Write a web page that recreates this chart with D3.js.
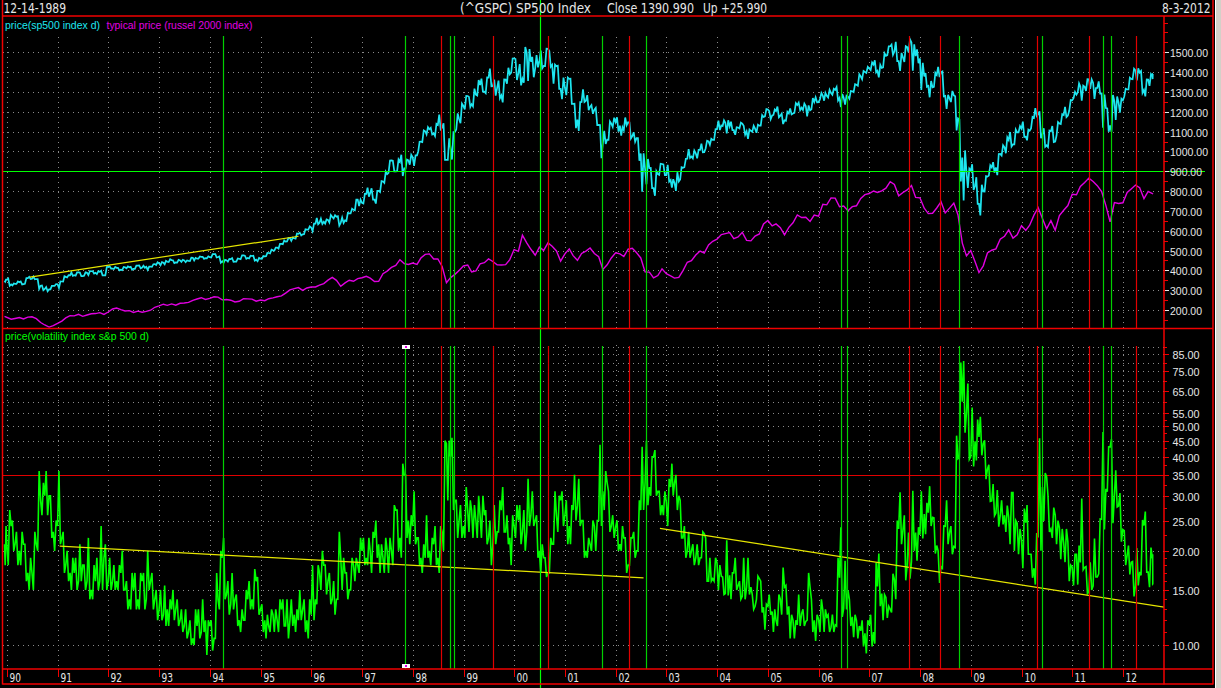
<!DOCTYPE html>
<html><head><meta charset="utf-8">
<script src="https://cdn.jsdelivr.net/npm/d3@7/dist/d3.min.js"></script>
<style>html,body{margin:0;padding:0;background:#000;overflow:hidden}</style>
</head><body>
<svg id="c" width="1221" height="688"></svg>
<script>
// ---------------- DATA (monthly, Dec 1989 .. Aug 2012) ----------------
const seriesStart = "1989-12-14";
const seriesEnd = "2012-08-03";

// S&P 500 monthly close / high / low (closing basis)
const spxClose = [353.4,
 329.1,331.9,339.9,330.8,361.2,358.0,356.2,322.6,306.1,304.0,322.2,330.2,
 343.9,367.1,375.2,375.3,389.8,371.2,387.8,395.4,387.9,392.5,375.2,417.1,
 408.8,412.7,403.7,414.9,415.4,408.1,424.2,414.0,417.8,418.7,431.4,435.7,
 438.8,443.4,451.7,440.2,450.2,450.5,448.1,463.6,458.9,467.8,461.8,466.5,
 481.6,467.1,445.8,450.9,456.5,444.3,458.3,475.5,462.7,472.4,453.7,459.3,
 470.4,487.4,500.7,514.7,533.4,544.8,562.1,561.9,584.4,581.5,605.4,615.9,
 636.0,640.4,645.5,654.2,669.1,670.6,639.9,652.0,687.3,705.3,757.0,740.7,
 786.2,790.8,757.1,801.3,848.3,885.1,954.3,899.5,947.3,914.6,955.4,970.4,
 980.3,1049.3,1101.8,1111.8,1090.8,1133.8,1120.7,957.3,1017.0,1098.7,1163.6,1229.2,
 1279.6,1238.3,1286.4,1335.2,1301.8,1372.7,1328.7,1320.4,1282.7,1362.9,1388.9,1469.3,
 1394.5,1366.4,1498.6,1452.4,1420.6,1454.6,1430.8,1517.7,1436.5,1429.4,1315.0,1320.3,
 1366.0,1239.9,1160.3,1249.5,1255.8,1224.4,1211.2,1133.6,1040.9,1059.8,1139.5,1148.1,
 1130.2,1106.7,1147.4,1076.9,1067.1,989.8,911.6,916.1,815.3,885.8,936.3,879.8,
 855.7,841.2,848.2,916.9,963.6,974.5,990.3,1008.0,996.0,1050.7,1058.2,1111.9,
 1131.1,1144.9,1126.2,1107.3,1120.7,1140.8,1101.7,1104.2,1114.6,1130.2,1173.8,1211.9,
 1181.3,1203.6,1180.6,1156.9,1191.5,1191.3,1234.2,1220.3,1228.8,1207.0,1249.5,1248.3,
 1280.1,1280.7,1294.8,1310.6,1270.1,1270.2,1276.7,1303.8,1335.9,1377.9,1400.6,1418.3,
 1438.2,1406.8,1420.9,1482.4,1530.6,1503.4,1455.3,1474.0,1526.8,1549.4,1481.1,1468.4,
 1378.6,1330.6,1322.7,1385.6,1400.4,1280.0,1267.4,1282.8,1166.4,968.8,896.2,903.3,
 825.9,735.1,797.9,872.8,919.1,919.3,987.5,1020.6,1057.1,1036.2,1095.6,1115.1,
 1073.9,1104.5,1169.4,1186.7,1089.4,1030.7,1101.6,1049.3,1141.2,1183.3,1180.6,1257.6,
 1286.1,1327.2,1325.8,1363.6,1345.2,1320.6,1292.3,1218.9,1131.4,1253.3,1247.0,1257.6,
 1312.4,1365.7,1408.5,1397.9,1310.3,1362.2,1379.3,1391.0];
const spxHigh = [353,
 359,334,344,344,361,367,369,356,324,316,322,331,
 344,370,376,390,390,389,390,396,396,396,398,417,
 420,417,413,417,420,418,424,425,423,419,431,441,
 442,448,456,451,453,453,450,464,463,470,468,471,
 482,482,470,453,458,462,460,476,474,474,474,463,
 472,488,504,515,534,551,563,565,586,590,607,622,
 636,664,661,657,679,678,673,666,690,711,757,757,
 786,817,814,801,850,898,954,953,960,983,959,983,
 980,1049,1106,1122,1119,1139,1186,1142,1066,1098,1192,1241,
 1280,1275,1317,1360,1367,1373,1418,1362,1357,1363,1422,1469,
 1466,1441,1527,1516,1477,1486,1509,1518,1507,1438,1432,1372,
 1373,1367,1241,1249,1313,1284,1234,1220,1133,1104,1151,1170,
 1172,1122,1171,1146,1097,1067,990,962,917,900,938,934,
 932,860,895,920,963,1011,1004,1008,1039,1054,1064,1112,
 1155,1157,1157,1150,1122,1145,1129,1111,1129,1135,1183,1214,
 1203,1211,1226,1191,1200,1217,1244,1246,1241,1232,1269,1273,
 1295,1295,1311,1316,1325,1290,1281,1305,1339,1389,1406,1427,
 1449,1460,1437,1495,1530,1539,1553,1497,1531,1565,1540,1515,
 1447,1395,1355,1397,1426,1404,1285,1305,1278,1161,1005,913,
 935,870,832,875,930,946,987,1031,1071,1098,1110,1128,
 1150,1110,1174,1218,1202,1117,1105,1128,1148,1188,1225,1259,
 1300,1343,1332,1364,1363,1320,1353,1287,1217,1285,1277,1266,
 1316,1372,1417,1419,1406,1363,1390,1391];
const spxLow = [343,
 322,324,332,329,332,356,355,307,300,295,304,322,
 311,343,364,372,373,371,373,376,384,381,375,375,
 409,407,400,401,410,403,408,410,413,402,418,427,
 426,431,442,437,439,443,441,447,450,459,458,461,
 465,465,438,438,444,443,444,456,458,460,449,446,
 458,471,485,500,510,532,546,549,560,576,582,605,
 598,633,634,636,641,662,626,639,649,687,703,724,
 737,772,757,737,795,841,892,899,900,876,914,933,
 927,1001,1047,1086,1085,1077,1112,957,957,959,1111,1142,
 1212,1224,1227,1282,1302,1294,1328,1281,1268,1247,1342,1397,
 1360,1333,1346,1356,1374,1424,1419,1430,1427,1342,1315,1264,
 1284,1240,1117,1103,1249,1208,1190,1133,966,1038,1059,1123,
 1100,1080,1132,1065,1049,953,797,834,815,776,882,880,
 847,817,801,858,920,967,965,965,995,1015,1033,1058,
 1108,1128,1091,1107,1084,1116,1084,1063,1099,1094,1130,1177,
 1163,1184,1172,1138,1154,1187,1194,1208,1209,1177,1212,1248,
 1262,1256,1272,1286,1257,1224,1236,1266,1299,1331,1364,1396,
 1410,1399,1374,1424,1486,1487,1455,1406,1451,1500,1407,1445,
 1310,1326,1273,1325,1375,1278,1214,1249,1106,848,752,816,
 805,735,677,797,878,893,880,979,991,1025,1036,1096,
 1073,1056,1116,1178,1067,1023,1022,1047,1080,1138,1173,1206,
 1269,1298,1256,1305,1315,1265,1292,1119,1099,1099,1159,1195,
 1277,1313,1364,1358,1295,1278,1331,1365];

// Russell 2000 (typical price), monthly
const rutTypical = [168.3,
 153.3,157.4,162.3,154.6,164.2,165.6,156.4,136.8,124.3,114.0,121.3,132.2,
 144.2,160.0,171.0,170.6,178.3,168.0,174.9,181.0,182.0,186.5,178.0,189.9,
 205.2,210.0,202.0,194.8,197.0,187.6,194.2,188.8,193.0,198.9,213.8,221.0,
 229.2,223.7,230.9,224.0,234.0,235.2,238.6,248.5,255.4,262.0,253.3,258.6,
 266.5,265.0,251.1,252.6,249.5,240.3,244.1,257.3,256.1,255.0,244.3,250.4,
 246.9,256.9,261.0,266.9,271.3,285.2,301.8,308.0,313.2,299.1,311.1,316.0,
 316.0,325.7,333.0,350.8,364.7,349.7,319.3,336.5,350.3,344.9,358.4,362.6,
 369.9,361.0,344.0,345.0,383.3,396.4,415.1,425.1,453.8,433.9,429.9,437.0,
 430.0,462.0,480.7,482.9,457.0,457.4,419.8,337.9,363.6,379.8,399.8,422.0,
 427.2,392.3,397.6,432.8,438.7,457.7,444.8,427.8,427.3,428.6,454.1,504.8,
 496.2,577.7,539.1,506.3,476.2,517.2,500.6,538.8,521.4,497.7,446.6,483.5,
 508.3,474.4,450.5,485.3,497.2,512.6,485.0,468.6,404.9,428.2,462.6,488.5,
 483.1,470.0,506.5,511.0,488.4,462.6,392.4,391.4,362.3,373.9,407.4,383.1,
 372.2,361.0,364.5,398.7,441.0,448.4,477.2,497.4,487.7,528.2,546.5,556.9,
 580.8,585.6,590.3,559.8,568.3,591.5,551.3,548.9,572.9,583.8,633.8,651.6,
 624.0,634.1,615.1,579.4,616.7,639.7,679.8,666.5,667.8,646.6,679.0,673.2,
 733.2,730.6,765.1,764.5,721.0,724.7,700.6,721.2,725.6,763.0,782.0,787.7,
 800.3,792.7,800.7,814.6,847.2,833.7,776.1,792.9,805.5,828.0,767.8,766.0,
 713.3,686.2,688.0,714.6,746.6,689.7,713.8,739.5,679.6,537.5,473.1,499.5,
 443.5,389.0,422.8,487.6,501.6,508.3,557.0,572.1,604.3,562.8,579.7,625.4,
 602.0,627.6,678.6,716.6,661.6,609.5,650.9,602.1,676.1,703.4,727.0,783.7,
 781.3,823.5,843.6,865.3,848.3,827.4,797.0,726.8,644.2,741.8,737.4,740.9,
 792.8,810.9,830.3,816.9,761.8,798.5,786.9,790.0];

// VIX monthly high / low / close
const vixHigh = [24,
 27,25,23,23,21,19,23,36,33,36,30,25,
 36,23,20,19,19,21,18,22,18,19,24,21,
 19,18,18,20,16,17,17,17,17,20,17,15,
 15,15.5,14,15,14,13,13,12,13,13,14,12,
 12,17,20,22,16,17,14.5,13,15,16,17.5,16.5,
 13.5,12.5,13,13,14,14,14,14,13,15,14,14,
 18,18,20,18,17,16,23,19,17,19,19,22,
 22,22,23,25,21,22,22,28,27,38,35,26,
 31,22,21,26,22,24,24,45,45,46,29,28,
 32,29,28,30,30,27,25,28,29,32,26,26,
 28,28,27,34,31,26,21,19,22,31,30,31,
 29,28,35,34,25,22,25,25,43.7,36,31,26,
 25,24,22,22,23,29,43,45,40,42,31,31,
 34,38,35,29,24,23,21,21,23,22,19,19,
 18,16.5,21.6,17,19,16,19,19,14.5,16.6,16,13.5,
 14.5,13,14.5,17.7,15.5,12.5,12,14.5,13,17,14,12.5,
 14,13,12.5,12.5,19,23.8,18.6,14,12.5,11.5,12,12,
 12.5,18.3,19.6,14.5,13.3,16.9,25,30.8,26,22.9,31.1,23.8,
 31,28.5,32.2,25.5,20,24,29,24,46.7,80,80.9,68.5,
 57.4,52.6,53.7,45.1,37.7,32.7,31.3,29,27.9,30.7,25,23.5,
 27.3,28,19.5,22.8,45.8,35.5,30,27.5,25,23.5,23.5,18,
 19.5,20.8,29.4,17.8,18.4,21.9,25.3,48,43,45.5,36.2,30.6,
 23.2,20.8,18.5,20.4,25.1,26.7,20.5,19.5];
const vixLow = [18,
 18,20,18,18,16,15,15,20,26,26,22,20,
 21,17,16,15,15,16,15,14,14,15,15,15,
 15,15,15,15,13,13,13,13,13,15,13,12,
 12,11.5,11.5,12,11.5,11,10.5,10,10,10.5,11,9.3,
 9.6,10.5,13,14,12.5,13,11.5,11,12,13,13,12.5,
 11,10.5,11,11,11,11.5,10.5,11.5,11,12,11,10.5,
 12,13.5,15,14.5,13.5,12.5,14,15,14,15,16,17,
 18,18,17,19,17,17,17,18,20,19,22,21,
 21,18,17,19,18,18,17,20,29,27,22,22,
 22,23,22,22,22,21,18,21,23,23,21,18,
 22,21,20,24,24,19,17,16.5,17,21,23,24,
 21,21,25,24,19,19,20,20,24,27,23,22,
 20,20,17,18,19,20,27,28,30,30,26,26,
 24,30,27,22,19,19,18,18,19,16,16,16,
 15,14.5,14.4,14,15,14,14,14.5,13,14,12.7,11.2,
 12.5,11,11.5,12.5,12.5,10.5,10.5,11.5,11.5,12,11,10.3,
 11,11,11,11,11.5,12.3,13,11.5,10.6,10.5,9.9,9.4,
 9.9,10.1,13.3,12,12.2,12.7,14,21,16.1,16.3,20,18.6,
 21.9,22.6,24,19.6,15.8,17.6,21,19.5,20.5,39.8,47.7,39.2,
 37.2,38.9,40.4,33.9,28.8,25.9,23.9,24.3,23,21,20,19.5,
 17.6,19.5,16.4,15.6,20,24.9,23,22,21,18.8,18.4,16,
 15.5,15.6,17.4,14.6,15,16.5,16.9,23.4,30.9,24.5,27.6,21.4,
 18,16.8,14.3,15.5,16.7,17.1,15.3,15.6];
const vixClose = [21,
 24,21,20,21,17,17,21,29,30,30,23,24,
 22,18,17,17,16,18,16,15,16,16,19,16,
 16,16,17,15,14,15,14,16,14,16,14,13,
 12.5,13,13,13,12,11.5,11,10.5,11.5,11,12,11.5,
 10.5,14,19,14.5,13.5,14,12,12,14,14,16,13,
 12,11.5,12.5,12,13,11.5,12,12.5,12,13,12,12.5,
 14,17,18,16,14,14,19,17,15,18,18,20,
 19,20,22,21,19,20,20,27,22,35,25,24,
 22,19,19,20,21,19,23,44,40,29,25,24,
 27,27,25,26,26,22,21,23,27,23,22,24,
 25,23,23,26,25,20,19,17,21,26,29,26,
 24,27,28,25,20,21,24,25,31,33,24,23.8,
 21,22,18,22,20,27,33,32,40,31,28,28.6,
 32,33,30,22,20,20,19,19,22.7,16,16.3,18.3,
 16.6,14.6,16.7,17,15.5,14.3,15.3,15.3,13.3,16.3,13.2,13.3,
 12.8,12,14,15.3,13.3,12,11.6,12.6,11.9,15.3,12,12.1,
 12.9,12.3,11.4,11.6,16.4,13.1,14.95,12.3,11.98,11.1,10.9,11.6,
 11,15.4,14.6,14.2,13,16.2,23.5,23.4,18,18.5,22.9,22.5,
 26.2,26.5,25.6,20.8,17.8,23.95,22.9,20.65,39.4,59.9,55.3,40,
 44.8,46.3,44.1,36.5,28.9,26.4,25.9,26,25.6,30.7,24.5,21.7,
 24.6,19.5,17.6,22.05,32,34.5,23.5,26,23.7,21.2,21.4,17.75,
 19.5,18.35,17.7,14.75,15.45,16.5,25.25,31.6,42.96,29.96,27.8,23.4,
 19.4,18.4,15.5,17.15,24.1,17.1,18.9,15.6];

// trend lines drawn on the chart
const priceTrend = [["1990-06-15",366],["1995-10-01",572]];
const vixTrend1 = [["1991-01-15",20.7],["2002-07-20",16.4]];
const vixTrend2 = [["2002-11-15",23.6],["2012-10-25",13.2]];

// marker (event) lines
const greenEvents = ["1994-04-07","1997-11-05","1998-09-25","1998-10-23","2001-09-26","2002-08-06",
  "2006-06-11","2006-07-23","2008-10-04","2010-05-28","2011-08-08","2011-10-09"];
const redEvents = ["1998-07-23","1999-07-29","2000-09-02","2002-04-08","2007-10-14","2008-05-26",
  "2010-04-23","2011-05-01","2012-04-01"];
const markedEvent = "1997-11-05";
const cursorDate = "2000-07-05", cursorPrice = 900;

// axis ticks
const yearTicks = d3.range(1990, 2013);
const priceTicks = [200,300,400,500,600,700,800,900,1000,1100,1200,1300,1400,1500];
const priceMinor = d3.range(150, 1700, 50);
const vixTicks = [10,15,20,25,30,35,40,45,50,55,65,75,85];
const vixGrid = [10,15,20,25,30,40,45,50,55,60,65,70,75,80,85,90];
const vixMinor = [11,12,13,14,16,17,18,19,22.5,27.5,32.5,37.5,42.5,47.5,52.5,60,70,80,90];
const vixAlert = 35;

// header texts
const hdrLeft = "12-14-1989", hdrRight = "8-3-2012";
const hdrMid = ["(^GSPC) SP500 Index", "Close 1390.990", "Up +25.990"];
const legendTop = ["price(sp500 index d)", "typical price (russel 2000 index)"];
const legendBot = "price(volatility index s&p 500 d)";

// ---------------- DRAWING ----------------
const svg = d3.select("#c");
const P = d3.timeParse("%Y-%m-%d");
const t0 = P(seriesStart), t1 = P(seriesEnd);
const RED = "#f00000", EVRED = "#e00000", EVGREEN = "#00d000", TXT = "#e6e6e6", GRID = "#8a8a8a";
const SANS = "'Liberation Sans', Arial, sans-serif";
const NARROW = "'Liberation Sans Narrow','Arial Narrow','DejaVu Sans Condensed',sans-serif";

const L = 3, AX = 1164, RB = 1213;
const TOP0 = 17, TOP1 = 328, BOT0 = 329, BOT1 = 669;

const x = d3.scaleTime().domain([new Date(1990,0,1), new Date(2012,0,1)]).range([7, 1123]);
const yT = d3.scaleLinear().domain([200, 1500]).range([310, 52.3]);
const yB = d3.scaleLog().domain([10, 85]).range([645, 354.3]);

svg.append("rect").attr("width",1221).attr("height",688).attr("fill","#000");
// scrollbar strip on the right
svg.append("rect").attr("x",1215).attr("y",0).attr("width",6).attr("height",688).attr("fill","#d4d0c8");
svg.append("line").attr("x1",1215.5).attr("x2",1215.5).attr("y1",0).attr("y2",688).attr("stroke","#ffffff");

const defs = svg.append("defs");
defs.append("clipPath").attr("id","cpT").append("rect").attr("x",L).attr("y",TOP0).attr("width",AX-L).attr("height",TOP1-TOP0);
defs.append("clipPath").attr("id","cpB").append("rect").attr("x",L).attr("y",BOT0).attr("width",AX-L).attr("height",BOT1-BOT0);

const gT = svg.append("g").attr("clip-path","url(#cpT)");
const gB = svg.append("g").attr("clip-path","url(#cpB)");

// dotted grid
yearTicks.forEach(yr => {
  const xx = Math.round(x(new Date(yr,0,1))) + 0.5;
  gT.append("line").attr("x1",xx).attr("x2",xx).attr("y1",37).attr("y2",TOP1).attr("stroke",GRID).attr("stroke-dasharray","1,4");
  gB.append("line").attr("x1",xx).attr("x2",xx).attr("y1",345).attr("y2",BOT1).attr("stroke",GRID).attr("stroke-dasharray","1,4");
});
priceTicks.forEach(v => {
  if (v === cursorPrice) return;
  const yy = Math.round(yT(v)) + 0.5;
  gT.append("line").attr("x1",L).attr("x2",AX).attr("y1",yy).attr("y2",yy).attr("stroke",GRID).attr("stroke-dasharray","1,4");
});
vixGrid.forEach(v => {
  const yy = Math.round(yB(v)) + 0.5;
  gB.append("line").attr("x1",L).attr("x2",AX).attr("y1",yy).attr("y2",yy).attr("stroke",GRID).attr("stroke-dasharray","1,4");
});
// alert line at 35
gB.append("line").attr("x1",L).attr("x2",AX).attr("y1",Math.round(yB(vixAlert))+0.5).attr("y2",Math.round(yB(vixAlert))+0.5).attr("stroke",EVRED);

// month spans
function span(i){
  let s = new Date(1989, 11+i, 1), e = new Date(1989, 12+i, 0);
  if (s < t0) s = t0; if (e > t1) e = t1;
  return [s, e];
}
function zig(hi, lo, cl){
  const pts = [];
  for (let i = 0; i < cl.length; i++){
    const [s, e] = span(i), len = e - s;
    const up = cl[i] >= (hi[i] + lo[i]) / 2;
    const a = up ? lo[i] : hi[i], b = up ? hi[i] : lo[i];
    if (i === 0) pts.push([s, (a + b) / 2]);
    pts.push([new Date(+s + len*0.3), a]);
    pts.push([new Date(+s + len*0.65), b]);
    pts.push([e, cl[i]]);
  }
  return pts;
}

// Russell (magenta)
const rutPts = rutTypical.map((v,i) => [i===0 ? t0 : span(i)[1], v]);
gT.append("path").attr("d", d3.line().x(d=>x(d[0])).y(d=>yT(d[1]))(rutPts))
  .attr("fill","none").attr("stroke","#e000e0").attr("stroke-width",1.4);
// S&P 500 (cyan)
gT.append("path").attr("d", d3.line().x(d=>x(d[0])).y(d=>yT(d[1]))(zig(spxHigh, spxLow, spxClose)))
  .attr("fill","none").attr("stroke","#1ee6f0").attr("stroke-width",1.7);
// VIX (green)
gB.append("path").attr("d", d3.line().x(d=>x(d[0])).y(d=>yB(d[1]))(zig(vixHigh, vixLow, vixClose)))
  .attr("fill","none").attr("stroke","#00ff00").attr("stroke-width",1.6);

// trend lines
const tl = (g, data, y) => g.append("line")
  .attr("x1", x(P(data[0][0]))).attr("y1", y(data[0][1]))
  .attr("x2", x(P(data[1][0]))).attr("y2", y(data[1][1]))
  .attr("stroke","#e6e600").attr("stroke-width",1.2);
tl(gT, priceTrend, yT); tl(gB, vixTrend1, yB); tl(gB, vixTrend2, yB);

// event lines
function ev(dates, color){
  dates.forEach(d => {
    const xx = Math.round(x(P(d))) + 0.5;
    gT.append("line").attr("x1",xx).attr("x2",xx).attr("y1",36).attr("y2",TOP1).attr("stroke",color).attr("stroke-width",1.2);
    gB.append("line").attr("x1",xx).attr("x2",xx).attr("y1",346).attr("y2",BOT1).attr("stroke",color).attr("stroke-width",1.2);
  });
}
ev(redEvents, EVRED);
ev(greenEvents, EVGREEN);
// markers on marked event
{
  const xx = Math.round(x(P(markedEvent)));
  [345, 664].forEach(yy => {
    svg.append("rect").attr("x",xx-3).attr("y",yy).attr("width",8).attr("height",4).attr("fill","#ffffff");
    svg.append("rect").attr("x",xx).attr("y",yy+1).attr("width",2).attr("height",2).attr("fill","#e000e0");
  });
}

// cursor crosshair
{
  const cx = Math.round(x(P(cursorDate))) + 0.5;
  const cy = Math.round(yT(cursorPrice)) + 0.5;
  svg.append("line").attr("x1",L).attr("x2",1205).attr("y1",cy).attr("y2",cy).attr("stroke","#00ff00");
  svg.append("line").attr("x1",cx).attr("x2",cx).attr("y1",0).attr("y2",688).attr("stroke","#00ff00").attr("stroke-width",1.2);
}

// frame
const fr = (x1,y1,x2,y2) => svg.append("line").attr("x1",x1).attr("y1",y1).attr("x2",x2).attr("y2",y2).attr("stroke",RED).attr("stroke-width",1.5);
fr(2.5,0,2.5,684.5); fr(RB,0,RB,684.5);
fr(2.5,16,RB,16); fr(2.5,328.5,RB,328.5);
fr(2.5,669,RB,669); fr(2.5,684,RB,684);
fr(AX,16,AX,684.5);

// right axis (top)
priceMinor.forEach(v => {
  const yy = Math.round(yT(v)) + 0.5; if (yy < TOP0+2 || yy > TOP1-2) return;
  svg.append("line").attr("x1",AX).attr("x2",AX+4).attr("y1",yy).attr("y2",yy).attr("stroke",RED);
});
priceTicks.forEach(v => {
  const yy = Math.round(yT(v)) + 0.5;
  svg.append("line").attr("x1",AX+1).attr("x2",AX+5).attr("y1",yy).attr("y2",yy).attr("stroke",TXT);
  svg.append("text").attr("x",1170).attr("y",yy+4).attr("fill",TXT).attr("font-family",SANS).attr("font-size",11)
    .attr("textLength",v>=1000?38:32).attr("lengthAdjust","spacingAndGlyphs").text(d3.format(".2f")(v));
});
// right axis (bottom)
vixMinor.forEach(v => {
  const yy = Math.round(yB(v)) + 0.5; if (yy < BOT0+2 || yy > BOT1-2) return;
  svg.append("line").attr("x1",AX).attr("x2",AX+3).attr("y1",yy).attr("y2",yy).attr("stroke",RED);
});
vixTicks.forEach(v => {
  const yy = Math.round(yB(v)) + 0.5;
  svg.append("line").attr("x1",AX).attr("x2",AX+5).attr("y1",yy).attr("y2",yy).attr("stroke",RED);
  svg.append("text").attr("x",1172.5).attr("y",yy+4).attr("fill",TXT).attr("font-family",SANS).attr("font-size",11)
    .attr("textLength",27).attr("lengthAdjust","spacingAndGlyphs").text(d3.format(".2f")(v));
});
// bottom time axis
yearTicks.forEach(yr => {
  const xx = Math.round(x(new Date(yr,0,1))) + 0.5;
  svg.append("line").attr("x1",xx).attr("x2",xx).attr("y1",669).attr("y2",677).attr("stroke",RED);
  svg.append("text").attr("x",xx+2).attr("y",682).attr("fill",TXT).attr("font-family",NARROW).attr("font-size",13)
    .attr("textLength",11.5).attr("lengthAdjust","spacingAndGlyphs").text(String(yr).slice(2));
});

// header
const ht = (tx, x0, w) => svg.append("text").attr("x",x0).attr("y",13).attr("fill",TXT).attr("font-family",NARROW)
  .attr("font-size",14).attr("textLength",w).attr("lengthAdjust","spacingAndGlyphs").text(tx);
ht(hdrLeft, 3.5, 62.5);
ht(hdrMid[0], 460, 131);
ht(hdrMid[1], 607, 87);
ht(hdrMid[2], 703, 64);
ht(hdrRight, 1162, 48.5);

// legends
svg.append("text").attr("x",5).attr("y",29).attr("fill","#1ee6f0").attr("font-family",SANS).attr("font-size",11)
  .attr("textLength",95).attr("lengthAdjust","spacingAndGlyphs").text(legendTop[0]);
svg.append("text").attr("x",106.5).attr("y",29).attr("fill","#e000e0").attr("font-family",SANS).attr("font-size",11)
  .attr("textLength",146).attr("lengthAdjust","spacingAndGlyphs").text(legendTop[1]);
svg.append("text").attr("x",5).attr("y",340).attr("fill","#00ff00").attr("font-family",SANS).attr("font-size",11)
  .attr("textLength",144).attr("lengthAdjust","spacingAndGlyphs").text(legendBot);
</script>
</body></html>
